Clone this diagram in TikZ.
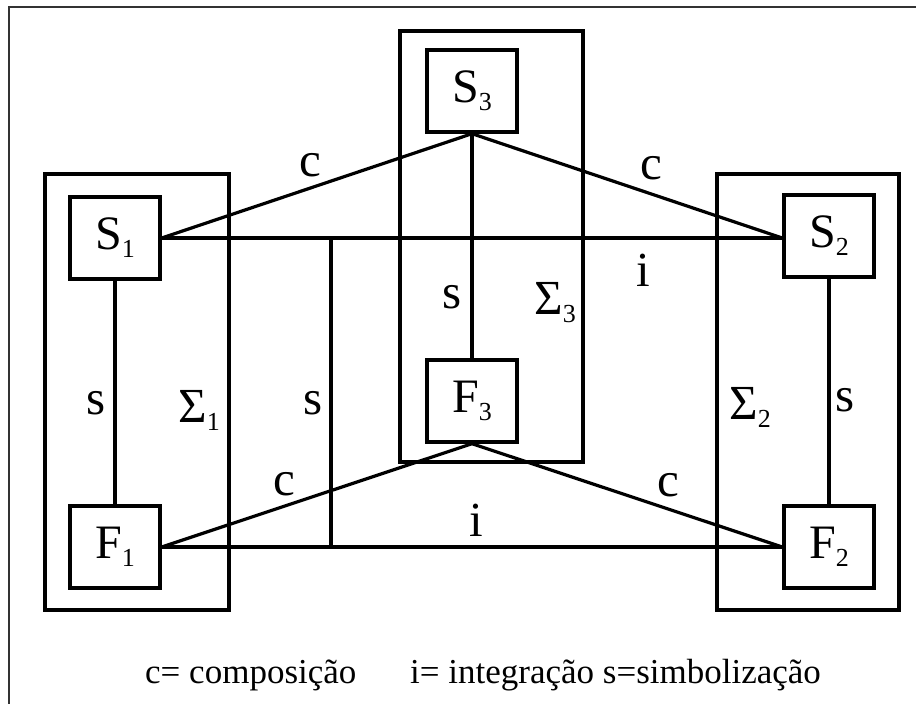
\documentclass[tikz,border=0pt]{standalone}
\usepackage{fontspec}
\setmainfont{Liberation Serif}
\newcommand\subx[1]{\raisebox{-8pt}{\fontsize{26}{26}\selectfont #1}}
\begin{document}
\begin{tikzpicture}[x=1pt,y=-1pt,
  box/.style={draw, line width=3.4pt, minimum width=90pt, minimum height=82pt, inner sep=0pt, fill=white,
    font=\fontsize{48}{48}\selectfont},
  group/.style={draw, line width=3.2pt},
  conn/.style={line width=3.2pt},
  lbl/.style={inner sep=0pt, font=\fontsize{49}{49}\selectfont},
  legendtxt/.style={inner sep=0pt, anchor=base west, font=\fontsize{35}{35}\selectfont}]
\useasboundingbox (0,0) rectangle (916,704);
% outer frame
\draw[line width=2pt, black!80] (9,704) -- (9,7) -- (916,7);
% group rectangles
\draw[group] (45,174) rectangle (229,610);
\draw[group] (400,31) rectangle (583,462);
\draw[group] (717,174) rectangle (899,610);
% nodes
\node[box] (S1) at (115,238) {S\subx{1}};
\node[box] (F1) at (115,547) {F\subx{1}};
\node[box] (S3) at (472,91) {S\subx{3}};
\node[box] (F3) at (472,401) {F\subx{3}};
\node[box] (S2) at (829,236) {S\subx{2}};
\node[box] (F2) at (829,547) {F\subx{2}};
% connectors
\draw[conn] (S1.east) -- (S3.south);
\draw[conn] (S3.south) -- (S2.west |- S1.east);
\draw[conn] (S1.east) -- (S2.west |- S1.east);
\draw[conn] (S3.south) -- (F3.north);
\draw[conn] (S1.south) -- (F1.north);
\draw[conn] (S2.south) -- (F2.north);
\draw[conn] (F1.east) -- (F3.south);
\draw[conn] (F3.south) -- (F2.west);
\draw[conn] (F1.east) -- (F2.west);
\coordinate (mt) at (331,240);
\coordinate (mb) at (331,547);
\draw[conn] (mt) -- (mb);
% labels
\node[lbl] (c1) at (310,165) {c};
\node[lbl] (c2) at (651,168) {c};
\node[lbl] (i1) at (643,270) {i};
\node[lbl] (s3) at (452,297) {s};
\node[lbl] (g3) at (555,303) {Σ\subx{3}};
\node[lbl] (g1) at (199,410) {Σ\subx{1}};
\node[lbl] (s1) at (96,403) {s};
\node[lbl] (sm) at (313,403) {s};
\node[lbl] (c3) at (284,484) {c};
\node[lbl] (c4) at (668,485) {c};
\node[lbl] (i2) at (476,520) {i};
\node[lbl] (g2) at (750,407) {Σ\subx{2}};
\node[lbl] (s2) at (845,400) {s};
% caption
\node[legendtxt] (k1) at (145,683) {c= composição};
\node[legendtxt] (k2) at (410,683) {i= integração s=simbolização};
\end{tikzpicture}
\end{document}
